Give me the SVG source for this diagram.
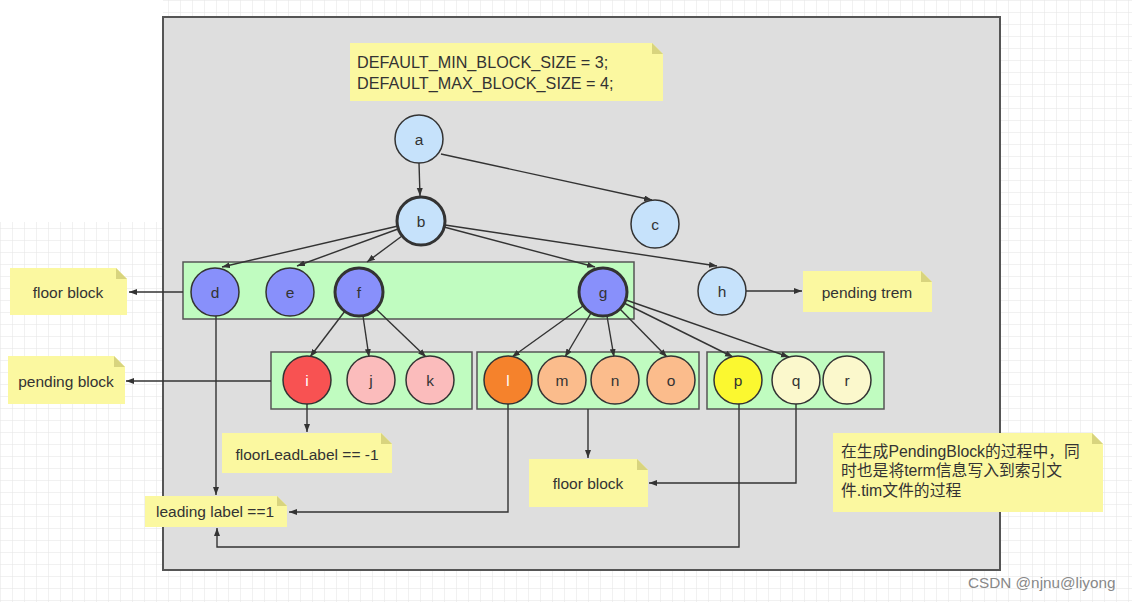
<svg xmlns="http://www.w3.org/2000/svg" width="1132" height="602" viewBox="0 0 1132 602">
<style>
.note{fill:#fbf8a0}
.fold{fill:#d8d47e}
.t{font-family:"Liberation Sans",Arial,sans-serif;font-size:15.5px;fill:#333}
.lbl{font-family:"Liberation Sans",Arial,sans-serif;font-size:15.5px;fill:#333;text-anchor:middle;dominant-baseline:central}
.grp{fill:#c0fcc0;stroke:#555;stroke-width:1.5}
.n{stroke:#333;stroke-width:1.5}
.thick{stroke-width:3}
.lb{fill:#c6e2fb}
.pu{fill:#8890fb}
.edge{fill:none;stroke:#333;stroke-width:1.4;marker-end:url(#ah)}
</style>
<defs>
<pattern id="grid" width="12" height="12" patternUnits="userSpaceOnUse">
<path d="M12 0H0V12" fill="none" stroke="#e4e4e4" stroke-width="1"/>
</pattern>
<marker id="ah" markerWidth="9" markerHeight="7" refX="8" refY="3" orient="auto" markerUnits="userSpaceOnUse">
<path d="M0,0 L8,3 L0,6 z" fill="#333"/>
</marker>
</defs>
<rect width="1132" height="602" fill="#fff"/>
<rect width="1132" height="602" fill="url(#grid)"/>
<rect x="0" y="0" width="163" height="222" fill="#fff"/>
<rect x="163" y="17" width="837" height="553" fill="#dedede" stroke="#555" stroke-width="2"/>

<g id="note-config">
<path class="note" d="M350 43H652L663 54V101H350Z"/>
<path class="fold" d="M652 43L663 54H652Z"/>
<text class="t" style="font-size:16.2px" x="357" y="68">DEFAULT_MIN_BLOCK_SIZE = 3;</text>
<text class="t" style="font-size:16.2px" x="357" y="89">DEFAULT_MAX_BLOCK_SIZE = 4;</text>
</g>

<g id="group-1"><rect class="grp" x="183" y="262" width="451" height="57"/></g>
<g id="group-2"><rect class="grp" x="271" y="352" width="201" height="57"/></g>
<g id="group-3"><rect class="grp" x="477" y="352" width="222" height="57"/></g>
<g id="group-4"><rect class="grp" x="707" y="352" width="177" height="57"/></g>

<g id="connectors">
<line class="edge" x1="419" y1="163" x2="420" y2="196"/>
<line class="edge" x1="441" y1="154" x2="652" y2="200"/>
<line class="edge" x1="398" y1="226" x2="222" y2="267"/>
<line class="edge" x1="398" y1="229" x2="297" y2="266"/>
<line class="edge" x1="402" y1="236" x2="367" y2="262"/>
<line class="edge" x1="444" y1="227" x2="595" y2="267"/>
<line class="edge" x1="445" y1="225" x2="717" y2="266"/>
<line class="edge" x1="345" y1="311" x2="310" y2="357"/>
<line class="edge" x1="363" y1="316" x2="369" y2="357"/>
<line class="edge" x1="376" y1="309" x2="426" y2="357"/>
<line class="edge" x1="583" y1="306" x2="512" y2="357"/>
<line class="edge" x1="591" y1="313" x2="565" y2="357"/>
<line class="edge" x1="607" y1="316" x2="614" y2="357"/>
<line class="edge" x1="620" y1="309" x2="667" y2="357"/>
<line class="edge" x1="624" y1="303" x2="733" y2="357"/>
<line class="edge" x1="626" y1="300" x2="789" y2="357"/>
<line class="edge" x1="183" y1="292" x2="129" y2="292"/>
<line class="edge" x1="271" y1="381" x2="126" y2="381"/>
<line class="edge" x1="746" y1="291" x2="802" y2="291"/>
<line class="edge" x1="216" y1="316" x2="216" y2="495"/>
<line class="edge" x1="307" y1="404" x2="307" y2="432"/>
<path class="edge" d="M508 404V512H289"/>
<line class="edge" x1="588" y1="409" x2="588" y2="458"/>
<path class="edge" d="M796 404V483H649"/>
<path class="edge" d="M739 404V547H217V528"/>
</g>

<g id="node-a"><circle class="n lb" cx="419" cy="139" r="24"/><text class="lbl" x="419" y="139">a</text></g>
<g id="node-b"><circle class="n lb thick" cx="421" cy="221" r="24"/><text class="lbl" x="421" y="221">b</text></g>
<g id="node-c"><circle class="n lb" cx="655" cy="224" r="24"/><text class="lbl" x="655" y="224">c</text></g>
<g id="node-d"><circle class="n pu" stroke-width="2" cx="215" cy="292" r="24"/><text class="lbl" x="215" y="292">d</text></g>
<g id="node-e"><circle class="n pu" cx="290" cy="292" r="24"/><text class="lbl" x="290" y="292">e</text></g>
<g id="node-f"><circle class="n pu thick" cx="359" cy="292" r="24"/><text class="lbl" x="359" y="292">f</text></g>
<g id="node-g"><circle class="n pu thick" cx="603" cy="292" r="24"/><text class="lbl" x="603" y="292">g</text></g>
<g id="node-h"><circle class="n lb" cx="722" cy="291" r="24"/><text class="lbl" x="722" y="291">h</text></g>
<g id="node-i"><circle class="n" fill="#f85252" cx="307" cy="380" r="24"/><text class="lbl" x="307" y="380" style="fill:#fff">i</text></g>
<g id="node-j"><circle class="n" fill="#fbbcbc" cx="371" cy="380" r="24"/><text class="lbl" x="371" y="380">j</text></g>
<g id="node-k"><circle class="n" fill="#fbbcbc" cx="430" cy="380" r="24"/><text class="lbl" x="430" y="380">k</text></g>
<g id="node-l"><circle class="n" fill="#f5822c" cx="508" cy="380" r="24"/><text class="lbl" x="508" y="380" style="fill:#fff">l</text></g>
<g id="node-m"><circle class="n" fill="#fbbc8c" cx="562" cy="380" r="24"/><text class="lbl" x="562" y="380">m</text></g>
<g id="node-n"><circle class="n" fill="#fbbc8c" cx="615" cy="380" r="24"/><text class="lbl" x="615" y="380">n</text></g>
<g id="node-o"><circle class="n" fill="#fbbc8c" cx="671" cy="380" r="24"/><text class="lbl" x="671" y="380">o</text></g>
<g id="node-p"><circle class="n" fill="#fbf830" cx="738" cy="380" r="24"/><text class="lbl" x="738" y="380">p</text></g>
<g id="node-q"><circle class="n" fill="#fbf8cc" cx="796" cy="380" r="24"/><text class="lbl" x="796" y="380">q</text></g>
<g id="node-r"><circle class="n" fill="#fbf8cc" cx="847" cy="380" r="24"/><text class="lbl" x="847" y="380">r</text></g>

<g id="note-floor-block-1">
<path class="note" d="M10 268H116L127 279V315H10Z"/><path class="fold" d="M116 268L127 279H116Z"/>
<text class="lbl" x="68" y="292">floor block</text>
</g>
<g id="note-pending-trem">
<path class="note" d="M803 271H921L932 282V312H803Z"/><path class="fold" d="M921 271L932 282H921Z"/>
<text class="lbl" x="867" y="292">pending trem</text>
</g>
<g id="note-pending-block">
<path class="note" d="M8 356H114L125 367V404H8Z"/><path class="fold" d="M114 356L125 367H114Z"/>
<text class="lbl" x="66" y="381">pending block</text>
</g>
<g id="note-floorLeadLabel">
<path class="note" d="M222 433H381L392 444V473H222Z"/><path class="fold" d="M381 433L392 444H381Z"/>
<text class="lbl" x="307" y="454">floorLeadLabel == -1</text>
</g>
<g id="note-leading-label">
<path class="note" d="M145 496H277L287 506V527H145Z"/><path class="fold" d="M277 496L287 506H277Z"/>
<text class="t" x="156" y="517">leading label ==1</text>
</g>
<g id="note-floor-block-2">
<path class="note" d="M529 459H637L648 470V507H529Z"/><path class="fold" d="M637 459L648 470H637Z"/>
<text class="lbl" x="588" y="483">floor block</text>
</g>
<g id="note-desc">
<path class="note" d="M833 433H1092L1103 444V512H833Z"/><path class="fold" d="M1092 433L1103 444H1092Z"/>
<text class="t" style="font-family:'Liberation Sans','Noto Sans CJK SC',sans-serif;font-size:15.8px" x="841" y="457">在生成PendingBlock的过程中，同</text>
<text class="t" style="font-family:'Liberation Sans','Noto Sans CJK SC',sans-serif;font-size:15.8px" x="841" y="476">时也是将term信息写入到索引文</text>
<text class="t" style="font-family:'Liberation Sans','Noto Sans CJK SC',sans-serif;font-size:15.8px" x="841" y="496">件.tim文件的过程</text>
</g>
<text x="968" y="588" style="font-family:'Liberation Sans',Arial,sans-serif;font-size:15.3px;fill:#888">CSDN @njnu@liyong</text>
</svg>
